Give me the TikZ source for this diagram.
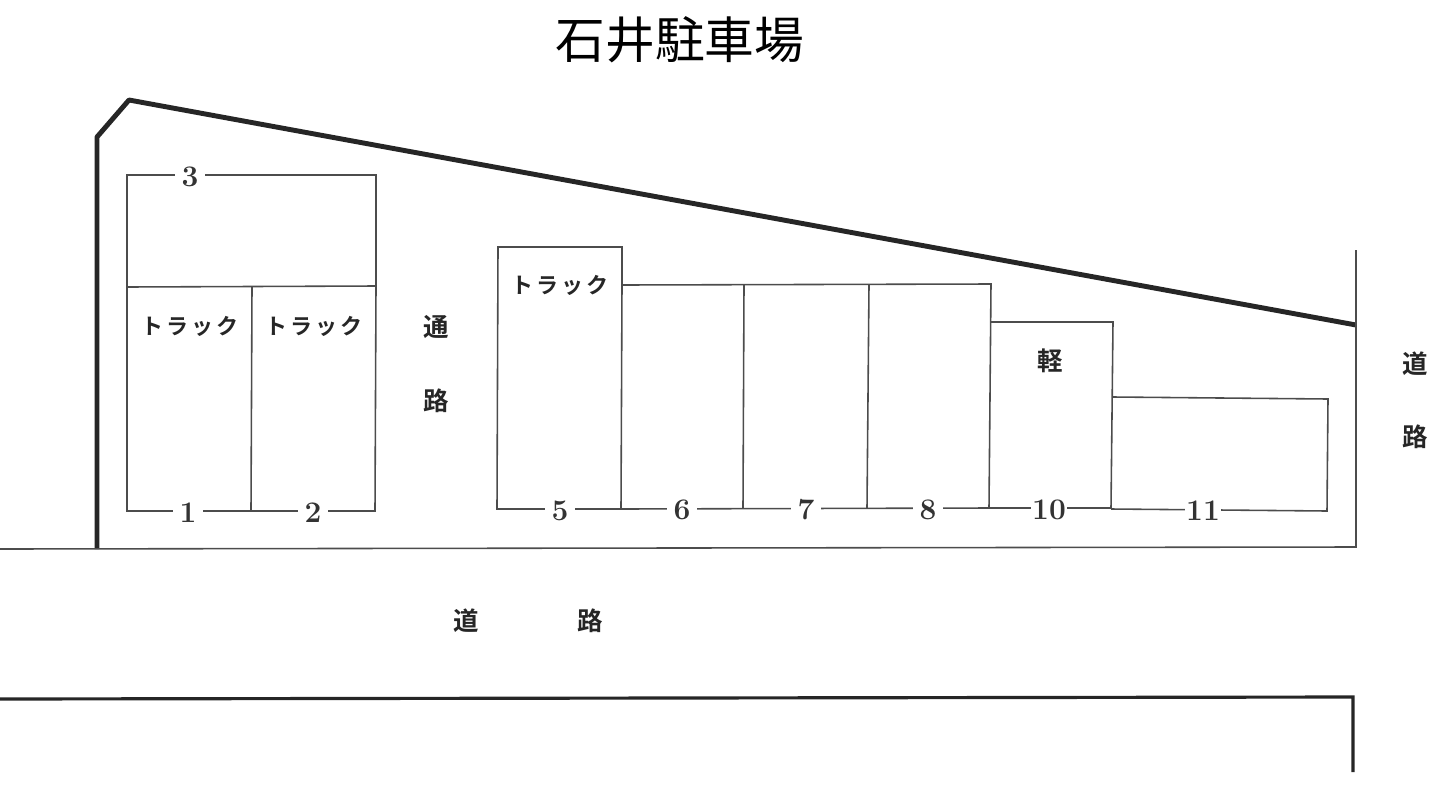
\documentclass[tikz,border=0pt]{standalone}
\usepackage{fontspec}
\newfontfamily\cjk[BoldFont={Noto Sans CJK JP Bold}]{Noto Sans CJK JP}
\newcommand{\trucktext}{ト\kern1.6pt ラ\kern1.6pt ッ\kern1.6pt ク}
\tikzset{
  wall/.style={line width=2.8pt, draw=black!85, line join=round},
  lot/.style={line width=0.9pt, draw=black!70},
  roadlabel/.style={font=\cjk\bfseries\fontsize{14.5}{14.5}\selectfont, text=black!85, inner sep=0pt},
  trucklabel/.style={font=\cjk\bfseries\fontsize{12.5}{12.5}\selectfont, text=black!85, inner sep=0pt},
  lotnum/.style={fill=white, font=\bfseries\fontsize{17}{17}\selectfont, text=black!80, inner xsep=4pt, inner ysep=1pt, text height=11pt, text depth=0pt}
}

\begin{document}
\begin{tikzpicture}[x=0.02cm, y=-0.02cm]
\useasboundingbox (0,0) rectangle (1434,785);
\node [font=\cjk\fontsize{28.3}{28.3}\selectfont, inner sep=0pt] (title) at (680,40) {石井駐車場};

\draw [wall] (97,549) -- (97,137) -- (129,100) -- (1356,325);
\draw [lot] (0,549) -- (1356,547) -- (1356,250);
\draw [line width=1.8pt, draw=black!85] (0,699) -- (1353,697) -- (1353,772);

\draw [lot] (127,287) -- (127,175) -- (376,175) -- (376,287);
\draw [lot] (127,287) -- (376,286) -- (375,511) -- (127,511) -- cycle;
\draw [lot] (252,287) -- (251,511);

\draw [lot] (622,284) -- (622,247) -- (498,247) -- (497,509) -- (621,509) -- cycle;
\draw [lot] (621,509) -- (990,508);
\draw [lot] (622,285) -- (991,284) -- (989,508);
\draw [lot] (744,285) -- (743,508);
\draw [lot] (869,285) -- (867,508);
\draw [lot] (991,322) -- (1113,322) -- (1111,508) -- (989,508);
\draw [lot] (1113,397) -- (1328,399) -- (1327,511) -- (1111,509);

\node [lotnum] (n3) at (190,177) {3};
\node [lotnum] (n1) at (188,513) {1};
\node [lotnum] (n2) at (313,513) {2};
\node [lotnum] (n5) at (560,511) {5};
\node [lotnum] (n6) at (682,510) {6};
\node [lotnum] (n7) at (806,510) {7};
\node [lotnum] (n8) at (928,510) {8};
\node [lotnum, inner xsep=0.5pt] (n10) at (1049,510) {10};
\node [lotnum, inner xsep=0.5pt] (n11) at (1203,511) {11};

\node [trucklabel] (t1) at (190,326) {\trucktext};
\node [trucklabel] (t2) at (314,326) {\trucktext};
\node [trucklabel] (t5) at (560,285) {\trucktext};
\node [roadlabel] (kei) at (1050,361) {軽};

\node [roadlabel] (tsu) at (436,327) {通};
\node [roadlabel] (ro1) at (436,401) {路};
\node [roadlabel] (do2) at (1415,364) {道};
\node [roadlabel] (ro2) at (1415,437) {路};
\node [roadlabel] (do3) at (466,621) {道};
\node [roadlabel] (ro3) at (590,621) {路};
\end{tikzpicture}
\end{document}
